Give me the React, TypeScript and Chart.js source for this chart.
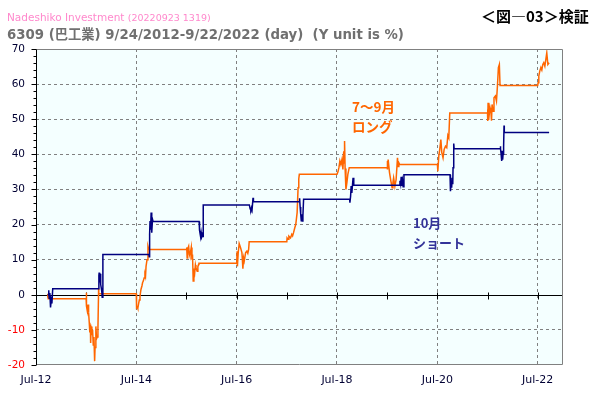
import React, { useEffect, useRef } from 'react';
import { Chart, registerables } from 'chart.js';

Chart.register(...registerables);

// 7~9月 long strategy (cumulative %, orange)
const longDates = [
  '2012-09-24', '2012-09-25', '2012-09-26', '2012-09-27', '2012-09-28',
  '2013-07-01', '2013-07-02', '2013-07-05', '2013-07-10', '2013-07-15', '2013-07-19', '2013-07-24', '2013-07-28',
  '2013-08-01', '2013-08-03', '2013-08-07', '2013-08-12', '2013-08-17', '2013-08-22', '2013-08-27',
  '2013-09-01', '2013-09-04', '2013-09-10', '2013-09-15', '2013-09-20', '2013-09-25', '2013-09-30', '2013-10-01',
  '2014-07-01', '2014-07-02', '2014-07-04', '2014-07-08', '2014-07-12', '2014-07-18', '2014-07-23', '2014-07-28',
  '2014-08-04', '2014-08-11', '2014-08-16', '2014-08-21', '2014-08-27',
  '2014-09-02', '2014-09-06', '2014-09-10', '2014-09-17', '2014-09-24', '2014-09-30',
  '2015-07-01', '2015-07-03', '2015-07-06', '2015-07-10', '2015-07-17', '2015-07-22', '2015-07-26',
  '2015-08-01', '2015-08-05', '2015-08-10', '2015-08-14', '2015-08-19', '2015-08-24', '2015-08-30',
  '2015-09-04', '2015-09-08', '2015-09-17', '2015-09-22', '2015-09-27', '2015-09-30',
  '2016-07-01', '2016-07-04', '2016-07-06', '2016-07-12', '2016-07-19', '2016-07-29',
  '2016-08-08', '2016-08-12', '2016-08-15', '2016-08-20', '2016-08-25',
  '2016-09-04', '2016-09-13', '2016-09-20', '2016-09-26', '2016-09-30',
  '2017-07-01', '2017-07-03', '2017-07-10', '2017-07-16', '2017-07-28',
  '2017-08-06', '2017-08-12', '2017-08-19', '2017-08-28',
  '2017-09-04', '2017-09-14', '2017-09-21', '2017-09-26', '2017-09-30',
  '2018-07-01', '2018-07-08', '2018-07-15', '2018-07-22', '2018-07-29',
  '2018-08-06', '2018-08-13', '2018-08-19', '2018-08-22', '2018-08-25', '2018-08-29',
  '2018-09-04', '2018-09-11', '2018-09-18', '2018-09-28',
  '2019-07-01', '2019-07-02', '2019-07-04', '2019-07-08', '2019-07-18', '2019-07-28',
  '2019-08-06', '2019-08-12', '2019-08-17', '2019-08-26',
  '2019-09-04', '2019-09-14', '2019-09-19', '2019-09-24', '2019-09-30',
  '2020-07-01', '2020-07-04', '2020-07-11', '2020-07-18', '2020-07-26',
  '2020-08-02', '2020-08-11', '2020-08-19', '2020-08-29',
  '2020-09-07', '2020-09-15', '2020-09-22', '2020-09-29', '2020-09-30',
  '2021-07-01', '2021-07-02', '2021-07-03', '2021-07-05', '2021-07-09', '2021-07-12', '2021-07-19', '2021-07-26', '2021-07-30',
  '2021-08-03', '2021-08-10', '2021-08-17', '2021-08-27',
  '2021-09-04', '2021-09-11', '2021-09-18', '2021-09-25', '2021-09-30',
  '2022-07-01', '2022-07-04', '2022-07-09', '2022-07-16', '2022-07-24', '2022-07-31',
  '2022-08-07', '2022-08-14', '2022-08-22', '2022-08-29',
  '2022-09-05', '2022-09-13', '2022-09-22',
];
const longValues = [
  0, -0.8, 0.3, -0.6, -1.1,
  -1.1, 0.6, -3.2, -4.7, -2.8, -5, -8, -10.7,
  -8.5, -13.7, -9, -11.5, -10, -14.3, -12,
  -18.9, -15, -9, -12.5, -12, -9.5, 1.7, 0.3,
  0.3, -2, -3.7, -3.5, -3.9, -2.5, -1.5, -0.4,
  1.5, 2.5, 3.5, 3.9, 4.8,
  5.8, 5.2, 8.1, 10, 13.8, 12.9,
  12.9, 13.5, 10.5, 13, 13.8, 11.5, 11,
  12.5, 13.5, 10, 11.5, 3.9, 7.5, 6.3,
  8.5, 7.7, 6.7, 8, 8.6, 9.0,
  9.0, 12.4, 8.1, 12, 14.6, 13.4,
  12, 9.5, 7.4, 10.5, 9.6,
  12, 12.4, 11.8, 12.9, 15.1,
  15.1, 16.2, 15.8, 16.7, 16.2,
  17.2, 16.8, 17.7, 19.1,
  20, 23.4, 30.5, 33, 34.3,
  34.3, 35, 36.2, 38.1, 37.1,
  38.5, 35.7, 40.9, 37.5, 43.8, 36,
  30, 31.9, 34.3, 36.2,
  36.2, 38.1, 35.7, 38.5, 34.8, 32.4,
  30.5, 32, 33.3, 30.9,
  32.8, 39, 36.5, 37.6, 37.1,
  37.1, 35.2, 39.5, 41.4, 44.2,
  40.5, 39, 41.4, 42.3,
  41.9, 45.4, 44.7, 51.8, 51.8,
  51.8, 52.8, 49.5, 54.7, 49.8, 50.9, 53.3, 51.9, 49.6,
  54.2, 52.3, 56.1, 56.6,
  55.2, 59.4, 64.7, 65.6, 59.6,
  59.6, 60.4, 62.3, 63.7, 64.7, 64,
  65.6, 66.1, 65.1, 67,
  68.9, 65.6, 66.1,
];

// 10月 short strategy (cumulative %, navy)
const shortDates = [
  '2012-09-24', '2012-09-28', '2012-10-02', '2012-10-05', '2012-10-10', '2012-10-15', '2012-10-20', '2012-10-25', '2012-10-31',
  '2013-10-01', '2013-10-02', '2013-10-04', '2013-10-08', '2013-10-11', '2013-10-15', '2013-10-19', '2013-10-23', '2013-10-26', '2013-10-31',
  '2014-10-01', '2014-10-03', '2014-10-06', '2014-10-09', '2014-10-13', '2014-10-17', '2014-10-20', '2014-10-23', '2014-10-27', '2014-10-31',
  '2015-10-01', '2015-10-02', '2015-10-06', '2015-10-12', '2015-10-16', '2015-10-21', '2015-10-26', '2015-10-30', '2015-10-31',
  '2016-10-01', '2016-10-07', '2016-10-12', '2016-10-17', '2016-10-21', '2016-10-28', '2016-10-31',
  '2017-10-01', '2017-10-02', '2017-10-06', '2017-10-10', '2017-10-14', '2017-10-18', '2017-10-22', '2017-10-26', '2017-10-31',
  '2018-10-01', '2018-10-03', '2018-10-08', '2018-10-12', '2018-10-17', '2018-10-22', '2018-10-26', '2018-10-31',
  '2019-10-01', '2019-10-02', '2019-10-07', '2019-10-11', '2019-10-16', '2019-10-21', '2019-10-25', '2019-10-31',
  '2020-10-01', '2020-10-02', '2020-10-06', '2020-10-09', '2020-10-13', '2020-10-16', '2020-10-21', '2020-10-23', '2020-10-28', '2020-10-31',
  '2021-10-01', '2021-10-02', '2021-10-05', '2021-10-08', '2021-10-12', '2021-10-15', '2021-10-19', '2021-10-22', '2021-10-26', '2021-10-29', '2021-10-31',
  '2022-09-22',
];
const shortValues = [
  0, 0, 1.3, -1, 0.5, -3.6, -1.5, -2.5, 1.7,
  1.7, 5.5, 6.3, 3.5, 6, 3, 2, 1, -0.7, 11.5,
  11.5, 10.8, 17.2, 21, 18.5, 23.4, 19, 17.7, 21.5, 20.9,
  20.9, 19.5, 18.4, 16.5, 17.8, 16.5, 17, 16.6, 25.6,
  25.6, 24.5, 24.1, 24.8, 24.2, 27.6, 26.5,
  26.5, 27.5, 25, 23, 21.1, 22.9, 21, 22.5, 27.2,
  27.2, 26.2, 28.1, 31, 29, 31.4, 33.3, 31.2,
  31.2, 32.5, 31.5, 33.6, 31, 32.4, 30.8, 34.2,
  34.2, 31.9, 29.5, 32, 30.5, 33.3, 31.5, 36.2, 43.1, 41.6,
  41.6, 42.3, 41.6, 40, 38.1, 41, 38.5, 40, 42, 48.2, 46.2,
  46.2,
];

const xTickDates = [
  '2012-07-01', '2013-07-01', '2014-07-01', '2015-07-01', '2016-07-01', '2017-07-01',
  '2018-07-01', '2019-07-01', '2020-07-01', '2021-07-01', '2022-07-01',
];
const xTickLabels = ['Jul-12', '', 'Jul-14', '', 'Jul-16', '', 'Jul-18', '', 'Jul-20', '', 'Jul-22'];
const xRange = ['2012-07-01', '2023-01-01'];
const yMin = -20;
const yMax = 70;
const yStep = 10;
const yMinorStep = 2;

function toYear(s: string): number {
  const [y, m, d] = s.split('-').map(Number);
  const start = Date.UTC(y, 0, 1);
  const end = Date.UTC(y + 1, 0, 1);
  return y + (Date.UTC(y, m - 1, d) - start) / (end - start);
}

const ORANGE = '#FF6600';
const NAVY = '#000080';
const GRID = '#808080';

const framePlugin = {
  id: 'frame',
  beforeDraw(chart: any) {
    const { ctx, chartArea: a } = chart;
    ctx.save();
    ctx.fillStyle = '#F4FFFF';
    ctx.fillRect(a.left, a.top, a.right - a.left, a.bottom - a.top);
    ctx.restore();
  },
  beforeDatasetsDraw(chart: any) {
    const { ctx, chartArea: a, scales } = chart;
    const y0 = Math.round(scales.y.getPixelForValue(0)) + 0.5;
    ctx.save();
    ctx.strokeStyle = '#000000';
    ctx.lineWidth = 1;
    ctx.beginPath();
    ctx.moveTo(a.left, y0);
    ctx.lineTo(a.right, y0);
    xTickDates.forEach((d) => {
      const x = Math.round(scales.x.getPixelForValue(toYear(d))) + 0.5;
      ctx.moveTo(x, y0 - 3);
      ctx.lineTo(x, y0 + 4);
    });
    ctx.stroke();
    ctx.restore();
  },
  afterDatasetsDraw(chart: any) {
    const { ctx, chartArea: a, scales } = chart;
    const L = Math.round(a.left) + 0.5;
    const R = Math.round(a.right) - 0.5;
    const T = Math.round(a.top) + 0.5;
    const B = Math.round(a.bottom) - 0.5;
    ctx.save();
    ctx.lineWidth = 1;
    ctx.strokeStyle = GRID;
    ctx.beginPath();
    ctx.moveTo(L, T);
    ctx.lineTo(R, T);
    ctx.lineTo(R, B);
    ctx.lineTo(L, B);
    ctx.stroke();
    ctx.strokeStyle = '#000000';
    ctx.beginPath();
    ctx.moveTo(L, T);
    ctx.lineTo(L, B + 0.5);
    for (let v = yMin; v <= yMax; v += yMinorStep) {
      const y = Math.round(scales.y.getPixelForValue(v)) + 0.5;
      const len = v % yStep === 0 ? 5 : 3;
      ctx.moveTo(L - len, y);
      ctx.lineTo(L, y);
    }
    ctx.stroke();
    ctx.restore();
  },
};

export default function App() {
  const ref = useRef<HTMLCanvasElement>(null);
  useEffect(() => {
    const longData = longDates.map((d, i) => ({ x: toYear(d), y: longValues[i] }));
    const shortData = shortDates.map((d, i) => ({ x: toYear(d), y: shortValues[i] }));
    const tickVals = xTickDates.map(toYear);
    const chart = new Chart(ref.current as HTMLCanvasElement, {
      type: 'line',
      data: {
        datasets: [
          {
            label: '10月 ショート',
            data: shortData,
            borderColor: NAVY,
            borderWidth: 1.5,
            pointRadius: 0,
            tension: 0,
            fill: false,
          },
          {
            label: '7〜9月 ロング',
            data: longData,
            borderColor: ORANGE,
            borderWidth: 1.5,
            pointRadius: 0,
            tension: 0,
            fill: false,
          },
        ],
      },
      options: {
        responsive: false,
        devicePixelRatio: 1,
        animation: false,
        parsing: false as any,
        normalized: true,
        layout: { padding: { top: 49, right: 27, left: 0, bottom: 0 } },
        plugins: { legend: { display: false }, tooltip: { enabled: false }, title: { display: false } },
        scales: {
          x: {
            type: 'linear',
            min: toYear(xRange[0]),
            max: toYear(xRange[1]),
            afterBuildTicks: (s: any) => {
              s.ticks = tickVals.map((v) => ({ value: v }));
            },
            afterFit: (s: any) => {
              s.height = 31;
            },
            ticks: {
              autoSkip: false,
              maxRotation: 0,
              minRotation: 0,
              padding: 9,
              color: '#000033',
              font: { family: 'DejaVu Sans', size: 11 },
              callback: (_v: any, i: number) => xTickLabels[i],
            },
            grid: {
              drawTicks: false,
              lineWidth: 1,
              color: (c: any) => (c.index > 0 && c.index % 2 === 0 ? GRID : 'rgba(0,0,0,0)'),
            },
            border: { display: false, dash: [3, 3] },
          },
          y: {
            type: 'linear',
            min: yMin,
            max: yMax,
            afterFit: (s: any) => {
              s.width = 36;
            },
            ticks: {
              stepSize: yStep,
              padding: 11,
              color: (c: any) => (c.tick && c.tick.value < 0 ? '#FF0000' : '#000033'),
              font: { family: 'DejaVu Sans', size: 10.5 },
            },
            grid: {
              drawTicks: false,
              lineWidth: 1,
              color: (c: any) => {
                const v = c.tick ? c.tick.value : 0;
                return v === 0 || v === yMin || v === yMax ? 'rgba(0,0,0,0)' : GRID;
              },
            },
            border: { display: false, dash: [3, 3] },
          },
        },
      },
      plugins: [framePlugin],
    });
    return () => chart.destroy();
  }, []);

  const abs: React.CSSProperties = { position: 'absolute', whiteSpace: 'nowrap', margin: 0 };
  return (
    <div style={{ position: 'fixed', left: 0, top: 0, width: 590, height: 396, background: '#ffffff', overflow: 'hidden' }}>
      <canvas ref={ref} width={590} height={396} style={{ position: 'absolute', left: 0, top: 0, width: 590, height: 396 }} />
      <div style={{ ...abs, left: 7, top: 10, fontFamily: 'DejaVu Sans', fontSize: 10.5, lineHeight: '14px', color: '#FF88CC' }}>
        Nadeshiko Investment <span style={{ fontSize: 9.5 }}>(20220923 1319)</span>
      </div>
      <div style={{ ...abs, left: 7, top: 26, fontFamily: 'DejaVu Sans, Noto Sans CJK JP', fontWeight: 'bold', fontSize: 13.3, lineHeight: '17px', color: '#707070' }}>
        6309 (巴工業) 9/24/2012-9/22/2022 (day)&nbsp; (Y unit is %)
      </div>
      <div style={{ ...abs, left: 481, top: 6, fontFamily: 'Noto Sans CJK JP', fontWeight: 'bold', fontSize: 15, lineHeight: '20px', color: '#000000' }}>
        ＜図―03＞検証
      </div>
      <div style={{ ...abs, left: 352, top: 96, fontFamily: 'Noto Sans CJK JP', fontWeight: 'bold', fontSize: 13.5, lineHeight: '20px', color: ORANGE }}>
        7〜9月<br />ロング
      </div>
      <div style={{ ...abs, left: 413, top: 213, fontFamily: 'Noto Sans CJK JP', fontWeight: 'bold', fontSize: 13, lineHeight: '20px', color: '#333399' }}>
        10月<br />ショート
      </div>
    </div>
  );
}
